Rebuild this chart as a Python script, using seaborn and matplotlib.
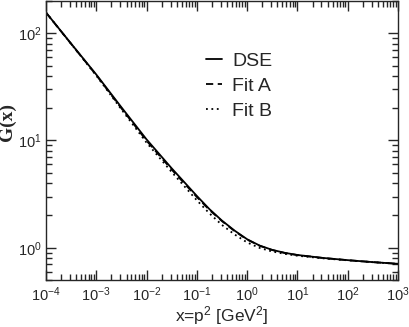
import numpy as np
import pandas as pd
import matplotlib
matplotlib.use("Agg")
import matplotlib.pyplot as plt
import seaborn as sns

# ------------------ data ------------------
x_vals = [1e-4, 3.16e-4, 1e-3, 3.16e-3, 1e-2, 3.16e-2, 1e-1, 1.78e-1, 3.16e-1,
          5.62e-1, 1.0, 1.78, 3.16, 5.62, 10.0, 31.6, 100.0, 316.0, 1000.0]
g_dse = [156.0, 80.0, 41.2, 20.4, 10.23, 5.50, 3.04, 2.29, 1.79,
         1.445, 1.20, 1.047, 0.955, 0.896, 0.856, 0.804, 0.766, 0.734, 0.708]
g_fit_a = [156.0, 79.6, 40.7, 19.95, 9.95, 5.35, 2.97, 2.25, 1.77,
           1.43, 1.19, 1.042, 0.951, 0.893, 0.854, 0.803, 0.765, 0.734, 0.708]
g_fit_b = [156.0, 79.5, 40.3, 19.5, 9.55, 5.08, 2.77, 2.09, 1.63,
           1.33, 1.12, 0.995, 0.922, 0.876, 0.842, 0.797, 0.763, 0.733, 0.708]

df = pd.DataFrame({"x": x_vals * 3,
                   "G": g_dse + g_fit_a + g_fit_b,
                   "model": ["DSE"] * len(x_vals) + ["Fit A"] * len(x_vals) + ["Fit B"] * len(x_vals)})

sns.set_style("ticks")
plt.rcParams["font.family"] = ["Liberation Sans", "DejaVu Sans"]
plt.rcParams["mathtext.fontset"] = "custom"
plt.rcParams["mathtext.rm"] = "Liberation Sans"
plt.rcParams["mathtext.it"] = "Liberation Sans:italic"
plt.rcParams["axes.unicode_minus"] = False

fig = plt.figure(figsize=(4.09, 3.27), dpi=100)
ax = fig.add_axes([0.1125, 0.1437, 0.8605, 0.8533])

styles = {"DSE": "-", "Fit A": (0, (4, 2.5)), "Fit B": (0, (1, 2))}
for name, d in df.groupby("model", sort=False):
    sns.lineplot(data=d, x="x", y="G", ax=ax, color="black", linewidth=1.3,
                 linestyle=styles[name], label=name)

ax.set_xscale("log")
ax.set_yscale("log")
ax.set_xlim(1e-4, 1e3)
ax.set_ylim(0.5, 200)
ax.set_xticks([10.0 ** k for k in range(-4, 4)])
ax.set_yticks([1, 10, 100])

ax.tick_params(which="both", direction="in", top=True, right=True, labelsize=10.5, pad=4)
ax.tick_params(axis="y", pad=3)
ax.tick_params(which="major", length=7, width=1)
ax.tick_params(which="minor", length=4, width=1)
for s in ax.spines.values():
    s.set_linewidth(1)

ax.set_xlabel("x=p$^2$ [GeV$^2$]", fontsize=12.5, labelpad=0)
ax.set_ylabel("G(x)", fontsize=14, fontweight="bold",
              family=["Liberation Serif", "DejaVu Serif"])
ax.yaxis.set_label_coords(-0.085, 0.565)

ax.legend(loc="upper left", bbox_to_anchor=(0.455, 0.815), frameon=False,
          fontsize=14, handlelength=0.8, handletextpad=0.55, labelspacing=0.38,
          borderaxespad=0, borderpad=0)

fig.savefig("out.png", dpi=100)
